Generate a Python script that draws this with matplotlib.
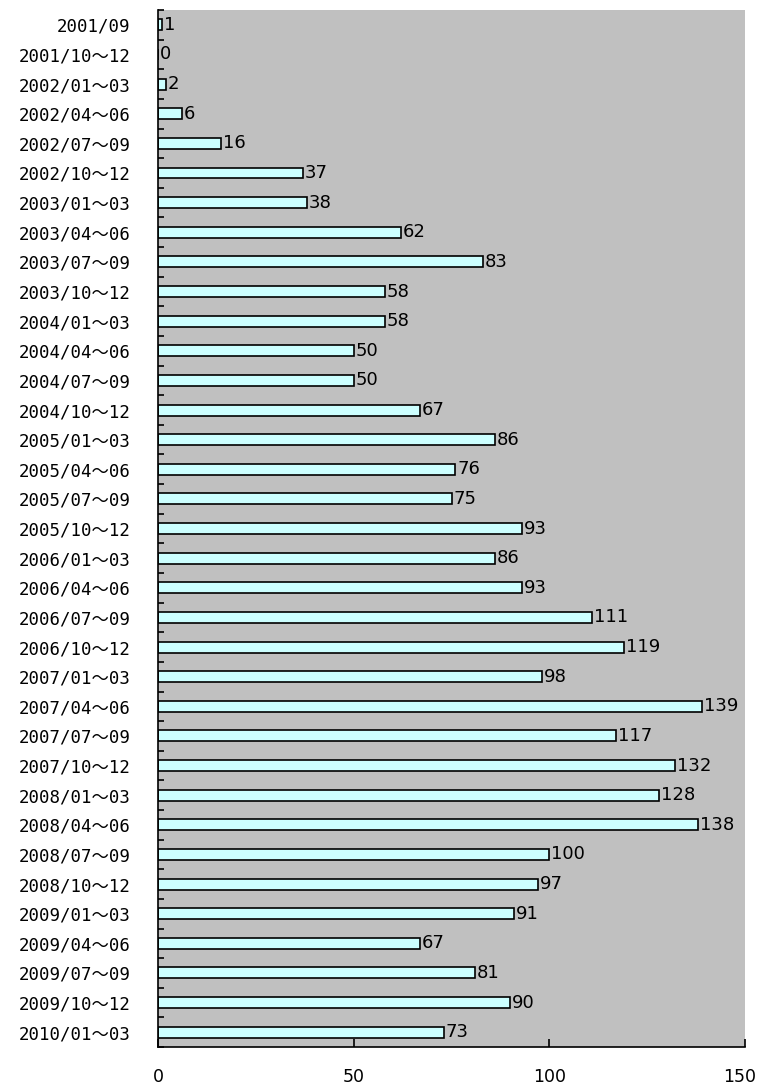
import matplotlib
matplotlib.use('Agg')
import matplotlib.pyplot as plt
import matplotlib.transforms as mtransforms
import numpy as np

plt.rcParams['font.family'] = ['DejaVu Sans', 'Noto Sans CJK JP']

labels = [
    '2001/09', '2001/10〜12',
    '2002/01〜03', '2002/04〜06', '2002/07〜09', '2002/10〜12',
    '2003/01〜03', '2003/04〜06', '2003/07〜09', '2003/10〜12',
    '2004/01〜03', '2004/04〜06', '2004/07〜09', '2004/10〜12',
    '2005/01〜03', '2005/04〜06', '2005/07〜09', '2005/10〜12',
    '2006/01〜03', '2006/04〜06', '2006/07〜09', '2006/10〜12',
    '2007/01〜03', '2007/04〜06', '2007/07〜09', '2007/10〜12',
    '2008/01〜03', '2008/04〜06', '2008/07〜09', '2008/10〜12',
    '2009/01〜03', '2009/04〜06', '2009/07〜09', '2009/10〜12',
    '2010/01〜03',
]
values = [1, 0, 2, 6, 16, 37, 38, 62, 83, 58, 58, 50, 50, 67, 86, 76, 75, 93,
          86, 93, 111, 119, 98, 139, 117, 132, 128, 138, 100, 97, 91, 67, 81, 90, 73]
xticks = [0, 50, 100, 150]

fig = plt.figure(figsize=(7.59, 10.9), dpi=100)
ax = fig.add_axes([0.2082, 0.0394, 0.7734, 0.9514])
ax.set_facecolor('#C0C0C0')

y = np.arange(len(values))
ax.barh(y, values, height=0.37, color='#CCFFFF', edgecolor='black', linewidth=1.2)
for yi, v in zip(y, values):
    ax.text(v + 0.5, yi, str(v), va='center', ha='left', fontsize=13)

ax.set_xlim(0, 150)
ax.set_ylim(len(values) - 0.5, -0.5)
ax.set_yticks(y)
ax.set_yticklabels(labels, fontsize=12.5,
                   family=['DejaVu Sans Mono', 'Noto Sans CJK JP'])
ax.set_yticks(np.arange(len(values) + 1) - 0.5, minor=True)
ax.tick_params(axis='y', which='major', length=0, pad=20)
ax.tick_params(axis='y', which='minor', direction='in', length=4, width=1.2)
ax.set_xticks(xticks)
ax.tick_params(axis='x', direction='in', length=6, width=1.2, pad=15, labelsize=12.5)

# keep the last x label inside the canvas
last = ax.get_xticklabels()[-1]
last.set_transform(last.get_transform() +
                   mtransforms.ScaledTranslation(-4 / 72, 0, fig.dpi_scale_trans))

for s in ['top', 'right']:
    ax.spines[s].set_visible(False)
for s in ['left', 'bottom']:
    ax.spines[s].set_linewidth(1.2)

fig.savefig('out.png', dpi=100)
